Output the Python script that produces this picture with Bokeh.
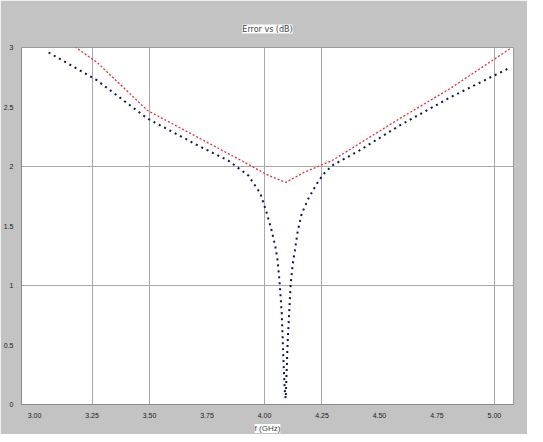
from bokeh.plotting import figure
from bokeh.models import FixedTicker, Range1d, Title
from bokeh.embed import file_html
from bokeh.resources import INLINE

# measured curve (dark dotted)
meas_x = [3.061, 3.272, 3.491, 3.711, 3.842, 3.930, 3.982, 4.009, 4.031, 4.048, 4.057,
          4.066, 4.075, 4.083, 4.088, 4.092, 4.101, 4.114, 4.123, 4.132, 4.145, 4.162,
          4.193, 4.228, 4.259, 4.294, 4.412, 4.588, 4.807, 5.061]
meas_y = [2.958, 2.723, 2.403, 2.176, 2.050, 1.924, 1.773, 1.613, 1.462, 1.319, 1.210,
          1.017, 0.765, 0.345, 0.118, 0.050, 0.538, 1.017, 1.185, 1.294, 1.462, 1.605,
          1.739, 1.857, 1.941, 2.008, 2.134, 2.345, 2.580, 2.824]

# envelope curve (red dotted)
env_x = [3.061, 3.272, 3.491, 3.711, 3.899, 4.018, 4.092, 4.171, 4.294, 4.588, 4.807, 5.070]
env_y = [3.160, 2.874, 2.471, 2.244, 2.050, 1.924, 1.866, 1.950, 2.050, 2.403, 2.655, 2.992]

x_ticks = [3.0, 3.25, 3.5, 3.75, 4.0, 4.25, 4.5, 4.75, 5.0]
x_tick_labels = ["3.00", "3.25", "3.50", "3.75", "4.00", "4.25", "4.50", "4.75", "5.00"]
y_ticks = [0, 0.5, 1, 1.5, 2, 2.5, 3]
y_tick_labels = ["0", "0.5", "1", "1.5", "2", "2.5", "3"]
x_grid = [3.25, 3.5, 4.0, 4.25, 5.0]
y_grid = [1, 2]

gray = "#c3c3c3"
p = figure(width=527, height=434, output_backend="svg", toolbar_location=None,
           x_range=Range1d(2.943, 5.083), y_range=Range1d(0, 3.0),
           background_fill_color="white", border_fill_color=gray,
           min_border_left=17, min_border_right=14, min_border_top=47, min_border_bottom=30)

p.title.text = "Error vs (dB)"
p.title.align = "center"
p.title.text_font = "DejaVu Sans"
p.title.text_font_size = "8px"
p.title.text_font_style = "normal"
p.title.background_fill_color = "white"
p.title.standoff = 28

p.add_layout(Title(text="f (GHz)", align="center", text_font_size="8px",
                   text_font_style="normal", background_fill_color="white",
                   standoff=3), "below")

p.line(env_x, env_y, line_color="#e0303a", line_width=1.3, line_dash="2 2")
p.line(meas_x, meas_y, line_color="#10105a", line_width=2, line_dash="2 4")

p.xaxis.ticker = FixedTicker(ticks=x_ticks)
p.xaxis.major_label_overrides = {t: l for t, l in zip(x_ticks, x_tick_labels)}
p.yaxis.ticker = FixedTicker(ticks=y_ticks)
p.yaxis.major_label_overrides = {t: l for t, l in zip(y_ticks, y_tick_labels)}
for ax in (p.xaxis[0], p.yaxis[0]):
    ax.major_label_text_font_size = "7px"
    ax.major_label_text_color = "#202020"
    ax.major_tick_line_color = None
    ax.minor_tick_line_color = None
    ax.axis_line_color = "#8a8a8a"
    ax.major_label_standoff = 2

p.xgrid.ticker = FixedTicker(ticks=x_grid)
p.ygrid.ticker = FixedTicker(ticks=y_grid)
p.xgrid.grid_line_color = "#a8a8a8"
p.ygrid.grid_line_color = "#a8a8a8"
p.outline_line_color = "#9a9a9a"

open("out.html", "w").write(file_html(p, INLINE))
